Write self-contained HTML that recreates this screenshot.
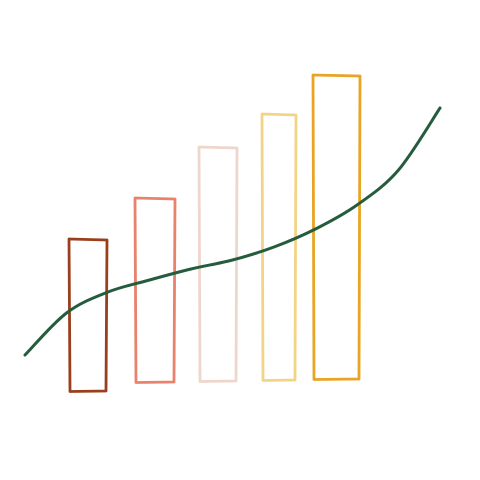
<!DOCTYPE html>
<html><head><meta charset="utf-8"><style>
html,body{margin:0;padding:0;background:#fff;width:480px;height:480px;overflow:hidden}
</style></head><body>
<svg id="chart" width="480" height="480" xmlns="http://www.w3.org/2000/svg"></svg>
<script>
const categories = ["A","B","C","D","E"];
const barValues = [143, 184, 235, 268, 307];
const barColors = ["#9a3f1e","#e8826c","#efd6cc","#f2d486","#e8a424"];
const lineValues = [27, 69, 90, 102, 113, 122, 135, 153, 177, 212, 274];

const svg = document.getElementById('chart');
const NS = 'http://www.w3.org/2000/svg';
const baseY = 382;
const yScale = v => baseY - v;
const barLeft = [69, 135, 199, 262, 313];
const barW = [38, 40, 38, 34, 47];
const barX = i => barLeft[i];
const lineX = i => 25 + i * (415 / (lineValues.length - 1));

categories.forEach((c, i) => {
  const x = barX(i), w = barW[i], y0 = yScale(barValues[i]);
  const p = document.createElementNS(NS, 'path');
  const b = baseY + (i === 0 ? 9 : 1 - i);
  p.setAttribute('d', `M${x},${y0} L${x+w},${y0+1} L${x+w-1},${b} L${x+1},${b+0.5} Z`);
  p.setAttribute('fill', 'none');
  p.setAttribute('stroke', barColors[i]);
  p.setAttribute('stroke-width', '2.8');
  p.setAttribute('stroke-linejoin', 'round');
  
  
  svg.appendChild(p);
});

const pts = lineValues.map((v, i) => [lineX(i), yScale(v)]);
let d = `M${pts[0][0]},${pts[0][1]}`;
for (let i = 0; i < pts.length - 1; i++) {
  const p0 = pts[Math.max(0, i-1)], p1 = pts[i], p2 = pts[i+1], p3 = pts[Math.min(pts.length-1, i+2)];
  const c1 = [p1[0] + (p2[0]-p0[0])/6, p1[1] + (p2[1]-p0[1])/6];
  const c2 = [p2[0] - (p3[0]-p1[0])/6, p2[1] - (p3[1]-p1[1])/6];
  d += ` C${c1[0]},${c1[1]} ${c2[0]},${c2[1]} ${p2[0]},${p2[1]}`;
}
const line = document.createElementNS(NS, 'path');
line.setAttribute('d', d);
line.setAttribute('fill', 'none');
line.setAttribute('stroke', '#255c3d');
line.setAttribute('stroke-width', '3');
line.setAttribute('stroke-linecap', 'round');


svg.appendChild(line);
</script>
</body></html>
